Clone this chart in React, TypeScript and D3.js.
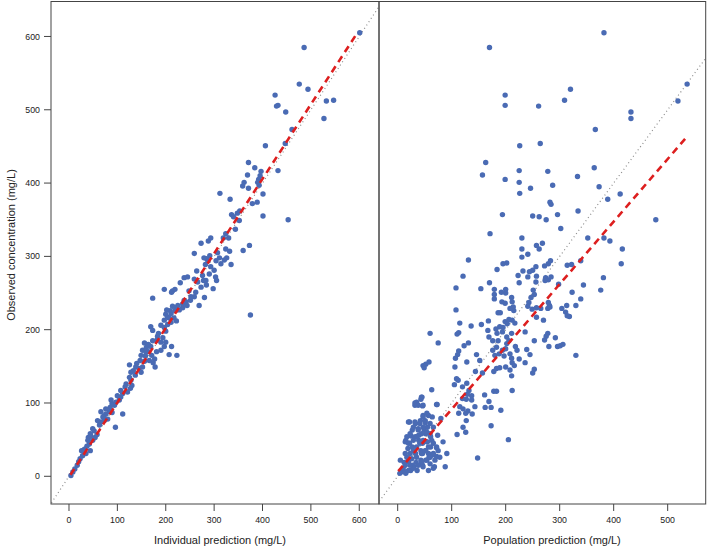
import React from 'react';
import * as d3 from 'd3';

const yTicks = [0, 100, 200, 300, 400, 500, 600];
const indivTicks = [0, 100, 200, 300, 400, 500, 600];
const popTicks = [0, 100, 200, 300, 400, 500];
const yLabel = 'Observed concentration (mg/L)';
const indivLabel = 'Individual prediction (mg/L)';
const popLabel = 'Population prediction (mg/L)';

// Individual prediction vs observed [x, y]
const indivPoints: [number, number][] = [
  [601,605],[486,585],[476,535],[494,528],[426,520],[429,505],[432,506],[448,497],[532,512],[547,513],
  [527,488],[461,473],[406,451],[447,454],[432,417],[371,428],[384,421],[397,416],[395,410],[392,405],
  [390,401],[393,397],[401,385],[371,393],[359,396],[362,401],[369,411],[312,386],[333,378],[389,374],
  [379,372],[401,355],[453,350],[353,362],[348,359],[336,357],[340,354],[352,349],[344,337],[324,331],
  [319,325],[330,325],[324,310],[332,307],[360,308],[373,315],[293,325],[288,321],[273,318],[259,304],
  [291,301],[284,297],[326,298],[307,305],[311,298],[304,294],[287,294],[282,289],[279,298],[335,289],
  [293,286],[264,280],[276,274],[266,265],[259,269],[245,272],[238,271],[278,267],[284,261],[303,272],
  [305,267],[298,256],[280,244],[269,233],[259,245],[251,240],[248,253],[238,240],[230,264],[214,253],
  [197,255],[173,243],[212,251],[219,255],[244,233],[235,230],[228,227],[221,230],[214,232],[209,226],
  [202,227],[200,221],[207,216],[217,216],[222,212],[211,210],[204,207],[197,203],[200,198],[375,220],
  [169,204],[173,199],[183,191],[194,189],[200,183],[212,177],[197,177],[207,166],[223,165],[190,183],
  [182,186],[190,172],[156,182],[160,176],[152,172],[164,170],[171,165],[177,160],[174,155],[166,158],
  [158,164],[149,165],[156,157],[178,149],[181,170],[169,177],[125,152],[138,149],[133,144],[145,147],
  [149,142],[137,138],[128,131],[130,124],[127,120],[121,115],[116,122],[111,113],[107,108],[104,104],
  [97,101],[94,97],[89,99],[85,94],[83,88],[76,85],[72,82],[73,76],[66,74],[63,70],[80,78],[89,87],
  [111,85],[96,67],[52,62],[45,55],[40,53],[49,49],[42,44],[37,41],[32,37],[35,31],[28,28],[23,24],
  [20,20],[17,15],[12,10],[8,6],[4,1],[54,53],[58,57],[44,35],
  [32,31],[26,35],[39,49],[44,58],[49,65],[59,76],[70,81],[66,88],[76,92],[87,104],[100,110],[107,117],
  [118,126],[125,135],[128,142],[140,154],[147,158],[152,149],[159,170],[164,180],[173,185],[185,195],
  [190,206],[197,213],[204,217],[211,222],[219,226],[225,233],[235,235],[242,238],[252,245],[262,251],
  [273,258],[283,267],[290,276],[300,281],[314,290],[321,295]
];

// Population prediction vs observed [x, y]
const popPoints: [number, number][] = [
  [382,605],[170,585],[536,535],[519,512],[320,528],[309,513],[199,520],[199,506],[261,505],[432,497],
  [432,488],[366,473],[226,451],[264,454],[163,428],[157,411],[199,405],[225,417],[225,401],[226,386],
  [278,416],[287,397],[246,393],[333,409],[364,421],[373,395],[412,385],[389,378],[282,374],[284,371],
  [334,362],[296,357],[250,355],[262,354],[275,350],[194,357],[478,350],[302,338],[171,331],[230,325],
  [352,325],[382,325],[393,321],[257,315],[268,318],[230,310],[262,310],[416,310],
  [241,303],[230,299],[414,290],[131,295],[202,291],[195,290],[184,282],[283,294],[279,290],[272,287],
  [256,286],[250,281],[244,279],[232,280],[223,274],[225,264],[241,272],[257,273],[256,265],[274,271],
  [279,268],[273,267],[284,272],[322,289],[314,288],[339,294],[298,262],[381,271],[376,254],[344,261],
  [323,251],[339,242],[330,233],[170,264],[154,256],[121,273],[108,257],[179,255],[179,248],[179,242],
  [192,251],[200,250],[200,255],[211,244],[212,238],[193,238],[199,236],[214,231],[215,226],[208,229],
  [251,254],[253,248],[247,244],[243,237],[241,232],[249,228],[257,230],[265,229],[257,217],[270,213],
  [279,237],[281,233],[278,229],[282,231],[304,229],[313,233],[311,224],[318,218],[314,219],[236,197],
  [278,195],[272,186],[275,191],[280,177],[292,189],[296,177],[301,178],[306,180],[330,165],[253,185],
  [239,173],[245,166],[236,155],[253,146],[250,141],[225,160],[218,177],[221,172],[211,195],[202,190],
  [206,185],[200,174],[194,172],[202,181],[199,211],[203,208],[195,203],[189,204],[182,201],[184,195],
  [194,197],[186,223],[190,223],[212,213],[217,209],[206,214],[168,212],[155,207],[136,205],[115,209],
  [113,196],[110,194],[167,199],[169,190],[176,185],[186,185],[183,176],[176,172],[180,165],[188,167],
  [197,164],[208,167],[211,161],[200,149],[208,145],[212,155],[216,151],[189,148],[183,147],[178,143],
  [211,137],[146,166],[152,158],[128,156],[157,141],[144,143],[131,182],[123,178],[113,171],[111,166],
  [107,161],[106,149],[60,195],[75,182],[47,151],[52,153],[58,156],[49,148],[108,227],
  [109,133],[105,125],[112,131],[120,122],[128,127],[132,117],[129,112],[137,110],[137,104],[127,105],
  [120,106],[115,95],[121,92],[130,89],[143,95],[138,85],[126,86],[127,76],[121,67],[110,57],[126,60],
  [113,86],[161,111],[169,102],[173,94],[162,94],[178,116],[183,116],[191,90],[173,69],[205,50],[148,25],
  [212,117],[84,47],[74,56],[68,13],[72,27],
  [63,118],[44,108],[35,101],[32,97],[46,96],[47,83],[73,98],[80,79],[64,81],[57,83],[51,73],[42,76],
  [33,72],[22,74],[38,65],[27,63],[25,55],[22,45],[15,49],[33,54],[39,49],[46,45],[55,47],[61,54],
  [52,58],[55,67],[61,40],[57,31],[46,31],[33,31],[27,40],[19,38],[14,31],[20,22],[27,15],[34,19],
  [43,22],[52,22],[58,26],[64,29],[46,15],[36,8],[24,8],[12,19],[6,6],[15,4],[30,13],[52,35],[43,35],
  [49,63],[39,56],[72,39],[4,4],[10,8],
  [32,100],[43,105],[45,108],[47,97],[38,97],[72,98],[20,74],[32,74],[41,72],[47,81],[54,86],[51,76],
  [60,72],[66,67],[47,67],[38,63],[29,67],[23,58],[17,54],[14,47],[20,45],[29,49],[35,54],[44,58],
  [54,60],[60,58],[63,49],[54,47],[47,49],[41,45],[35,40],[29,35],[23,31],[17,26],[5,22],[14,15],
  [20,20],[26,24],[35,26],[44,31],[51,35],[57,40],[66,45],[72,40],[75,35],[66,31],[60,26],[54,22],
  [44,20],[38,15],[29,11],[20,8],[14,6],[10,11],[23,15],[47,13],[60,17],[69,22],[78,26],[66,11],
  [57,8],[91,31],[88,13]
];

const indivFit: [number, number][] = [[3, 2], [595, 604]];
const popFit: [number, number][] = [[1, 7], [533, 461]];

const FONT = 'Liberation Sans, Arial, Helvetica, sans-serif';
const POINT = '#4a6bb4';
const RED = '#dd1f1f';

const top = 1.5;
const bottom = 504;

type PanelProps = {
  id: string;
  x: d3.ScaleLinear<number, number>;
  y: d3.ScaleLinear<number, number>;
  points: [number, number][];
  fit: [number, number][];
  ticks: number[];
  label: string;
  labelX: number;
};

function Panel({ id, x, y, points, fit, ticks, label, labelX }: PanelProps) {
  const [x0, x1] = x.range();
  const line = d3.line<[number, number]>().x(d => x(d[0])).y(d => y(d[1]));
  const ident: [number, number][] = [[-100, -100], [800, 800]];
  return (
    <g>
      <defs>
        <clipPath id={id}>
          <rect x={x0} y={top} width={x1 - x0} height={bottom - top} />
        </clipPath>
      </defs>
      <g clipPath={`url(#${id})`}>
        <path d={line(ident) || ''} stroke="#8c8c8c" strokeWidth={1.2} strokeDasharray="1 3" fill="none" />
        {points.map((p, i) => (
          <circle key={i} cx={x(p[0])} cy={y(p[1])} r={2.7} fill={POINT} />
        ))}
        <path d={line(fit) || ''} stroke={RED} strokeWidth={2.6} strokeDasharray="7 5" fill="none" />
      </g>
      <rect x={x0} y={top} width={x1 - x0} height={bottom - top} fill="none" stroke="#444" strokeWidth={1} />
      {ticks.map(t => (
        <g key={t}>
          <line x1={x(t)} x2={x(t)} y1={bottom} y2={bottom + 7} stroke="#444" strokeWidth={1} />
          <text x={x(t)} y={523} textAnchor="middle" fontSize={8.8} fill="#222" fontFamily={FONT}>{t}</text>
        </g>
      ))}
      <text x={labelX} y={544} textAnchor="middle" fontSize={11} fill="#222" fontFamily={FONT}>{label}</text>
    </g>
  );
}

export default function App() {
  const y = d3.scaleLinear().domain([-37.8, 647.7]).range([bottom, top]);
  const xL = d3.scaleLinear().domain([-37.2, 640.8]).range([51, 379]);
  const xR = d3.scaleLinear().domain([-34.6, 570.4]).range([379, 705.7]);
  return (
    <div style={{ position: 'absolute', left: 0, top: 0 }}>
      <svg width={709} height={547} style={{ display: 'block', background: '#fff' }}>
        <rect x={0} y={0} width={709} height={547} fill="#fff" />
        <Panel id="clipL" x={xL} y={y} points={indivPoints} fit={indivFit} ticks={indivTicks} label={indivLabel} labelX={220} />
        <Panel id="clipR" x={xR} y={y} points={popPoints} fit={popFit} ticks={popTicks} label={popLabel} labelX={552} />
        {yTicks.map(t => (
          <g key={t}>
            <line x1={44} x2={51} y1={y(t)} y2={y(t)} stroke="#444" strokeWidth={1} />
            <text x={40} y={y(t)} dy="0.35em" textAnchor="end" fontSize={8.8} fill="#222" fontFamily={FONT}>{t}</text>
          </g>
        ))}
        <text transform={`translate(15,245) rotate(-90)`} textAnchor="middle" fontSize={11} fill="#222" fontFamily={FONT}>{yLabel}</text>
      </svg>
    </div>
  );
}
